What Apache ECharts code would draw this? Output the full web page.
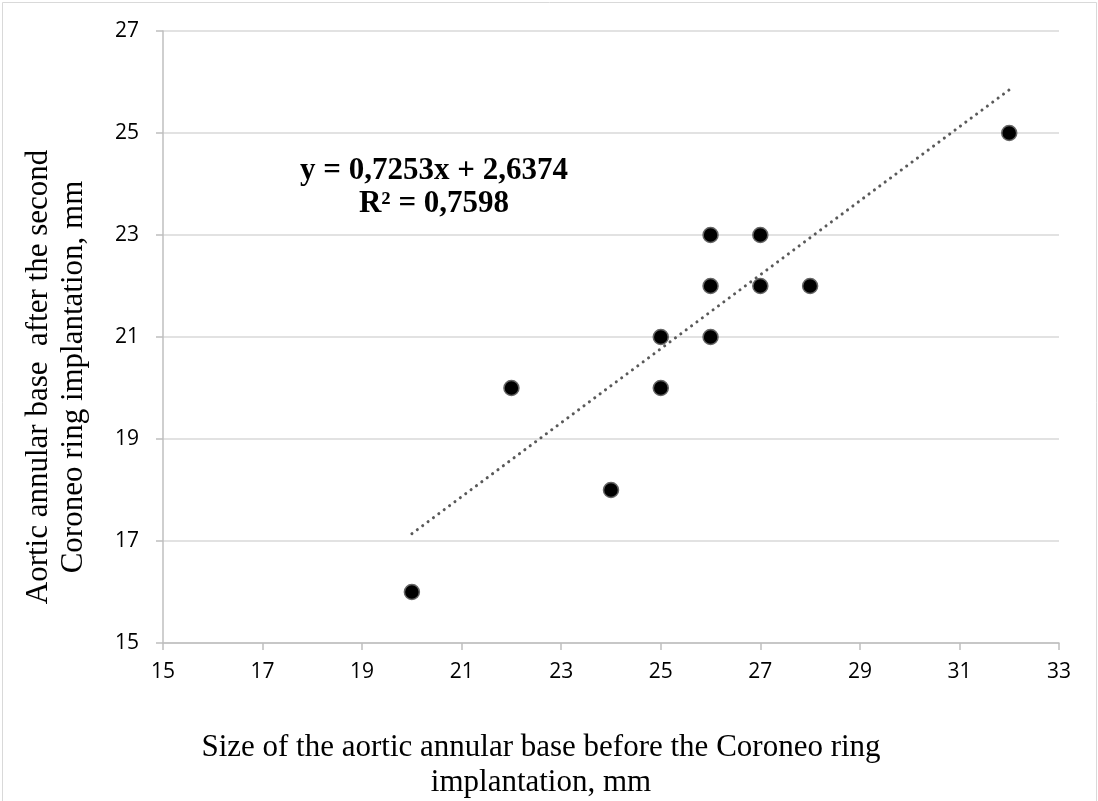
<!DOCTYPE html>
<html>
<head>
<meta charset="utf-8">
<script src="https://cdn.jsdelivr.net/npm/echarts@6/dist/echarts.min.js"></script>
<style>
  html, body { margin: 0; padding: 0; background: #ffffff; }
  #chart { width: 1098px; height: 801px; }
</style>
</head>
<body>
<div id="chart"></div>
<script>
// Annular base size before vs. after the second Coroneo ring implantation (mm)
const sizeBefore = [20, 22, 24, 25, 25, 26, 26, 26, 27, 27, 28, 32];
const sizeAfter  = [16, 20, 18, 21, 20, 23, 22, 21, 23, 22, 22, 25];

// Linear trend line as stated on the chart
const trendSlope = 0.7253;
const trendIntercept = 2.6374;
const trendR2 = 0.7598;
const trendRange = [20, 32];

const xTicks = { min: 15, max: 33, step: 2 };
const yTicks = { min: 15, max: 27, step: 2 };

const xTitle = ['Size of the aortic annular base before the Coroneo ring', 'implantation, mm'];
const yTitle = ['Aortic annular base  after the second', 'Coroneo ring implantation, mm'];

const fmt = v => v.toFixed(4).replace('.', ',');

const points = sizeBefore.map((x, i) => [x, sizeAfter[i]]);
const trend = trendRange.map(x => [x, trendSlope * x + trendIntercept]);

const chart = echarts.init(document.getElementById('chart'), null, { renderer: 'canvas' });

const axisColor = '#bfbfbf';
const gridColor = '#d9d9d9';
const tickFont = { fontFamily: 'Open Sans', fontSize: 21, color: '#000000' };
const serif = '"Liberation Serif", "DejaVu Serif", serif';

chart.setOption({
  backgroundColor: '#ffffff',
  animation: false,
  grid: { left: 163, right: 39, top: 31, bottom: 158, containLabel: false },
  xAxis: {
    type: 'value',
    min: xTicks.min, max: xTicks.max, interval: xTicks.step,
    axisLine: { show: true, onZero: false, lineStyle: { color: axisColor, width: 1.5 } },
    axisTick: { show: true, inside: false, length: 7, lineStyle: { color: axisColor, width: 1.5 } },
    axisLabel: Object.assign({ margin: 19 }, tickFont),
    splitLine: { show: false }
  },
  yAxis: {
    type: 'value',
    min: yTicks.min, max: yTicks.max, interval: yTicks.step,
    axisLine: { show: true, onZero: false, lineStyle: { color: axisColor, width: 1.5 } },
    axisTick: { show: true, inside: false, length: 7, lineStyle: { color: axisColor, width: 1.5 } },
    axisLabel: Object.assign({ margin: 24 }, tickFont),
    splitLine: { show: true, lineStyle: { color: gridColor, width: 1.5 } }
  },
  series: [
    {
      type: 'line',
      data: trend,
      symbol: 'none',
      silent: true,
      z: 2,
      lineStyle: { color: '#595959', width: 3, type: [0.1, 6.6], cap: 'round' }
    },
    {
      type: 'scatter',
      data: points,
      symbol: 'circle',
      symbolSize: 15,
      z: 3,
      itemStyle: { color: '#000000', opacity: 1, borderColor: '#666666', borderWidth: 1.5 }
    }
  ],
  graphic: [
    {
      type: 'rect',
      silent: true,
      shape: { x: 2.5, y: 2.5, width: 1094, height: 830 },
      style: { fill: 'none', stroke: '#d9d9d9', lineWidth: 1 }
    },
    {
      type: 'text',
      x: 434, y: 187,
      silent: true,
      style: {
        text: 'y = ' + fmt(trendSlope) + 'x + ' + fmt(trendIntercept) + '\nR² = ' + fmt(trendR2),
        font: 'bold 31px ' + serif,
        lineHeight: 33,
        fill: '#000000',
        align: 'center',
        verticalAlign: 'middle'
      }
    },
    {
      type: 'text',
      x: 541, y: 765,
      silent: true,
      style: {
        text: xTitle.join('\n'),
        font: '31px ' + serif,
        lineHeight: 35,
        fill: '#000000',
        align: 'center',
        verticalAlign: 'middle'
      }
    },
    {
      type: 'text',
      x: 56, y: 377,
      rotation: Math.PI / 2,
      silent: true,
      style: {
        text: yTitle.join('\n'),
        font: '31px ' + serif,
        lineHeight: 35,
        fill: '#000000',
        align: 'center',
        verticalAlign: 'middle'
      }
    }
  ]
});
</script>
</body>
</html>
